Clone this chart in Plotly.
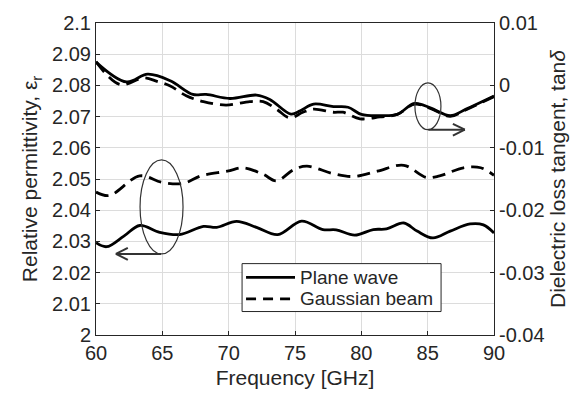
import plotly.graph_objects as go

# ---- data ----
# Lower curves: relative permittivity (left axis)
f_pw_eps = [60, 60.8, 62.1, 63.3, 64.8, 66.3, 68.1, 69.1, 70.6, 72.1, 73.7, 75.5, 77.1, 78.1, 79.5, 80.9, 81.9, 83.2, 84.2, 85.4, 86.7, 88.2, 89.2, 90]
pw_eps = [2.0296, 2.0283, 2.0317, 2.0351, 2.0329, 2.0322, 2.0348, 2.0345, 2.0364, 2.0345, 2.0322, 2.0365, 2.0338, 2.0337, 2.0320, 2.0338, 2.0340, 2.0359, 2.0333, 2.0311, 2.0333, 2.0356, 2.0353, 2.0327]

f_gb_eps = [60, 61.0, 63.3, 65.0, 66.6, 67.9, 69.9, 71.1, 72.6, 73.6, 74.9, 75.9, 77.9, 79.4, 81.2, 83.2, 84.9, 85.9, 87.7, 89.0, 90]
gb_eps = [2.0458, 2.0447, 2.0510, 2.0489, 2.0486, 2.0510, 2.0525, 2.0536, 2.0515, 2.0494, 2.0530, 2.0541, 2.0517, 2.0508, 2.0525, 2.0544, 2.0505, 2.0510, 2.0536, 2.0536, 2.0512]

# Upper curves: dielectric loss tangent (right axis)
f_pw_tan = [60, 62.3, 63.9, 65.6, 67.3, 68.3, 70.1, 72.1, 73.1, 74.7, 75.4, 76.4, 77.9, 79.0, 80.0, 81.4, 82.7, 84.0, 85.2, 86.7, 87.9, 90]
pw_tan = [0.00375, 0.00055, 0.0018, 0.00075, -0.00145, -0.00145, -0.0021, -0.00155, -0.00225, -0.0046, -0.00405, -0.0030, -0.0034, -0.0035, -0.00465, -0.00485, -0.00465, -0.0029, -0.0036, -0.00485, -0.0038, -0.0017]

f_gb_tan = [60, 61.8, 63.6, 64.6, 65.6, 66.8, 68.1, 69.8, 71.6, 72.6, 73.6, 74.6, 75.6, 76.4, 77.9, 78.6, 79.9, 81.4, 82.7, 84.0, 85.2, 86.7, 87.9, 90]
gb_tan = [0.0038, 0.00015, 0.0012, 0.00065, -0.0001, -0.00165, -0.0026, -0.00315, -0.0026, -0.0026, -0.0038, -0.0052, -0.0043, -0.0038, -0.0043, -0.0043, -0.00535, -0.00505, -0.00465, -0.0030, -0.0037, -0.00495, -0.0039, -0.0018]

series_names = ["Plane wave", "Gaussian beam"]

x_ticks = [60, 65, 70, 75, 80, 85, 90]
yl_ticks = [2.0, 2.01, 2.02, 2.03, 2.04, 2.05, 2.06, 2.07, 2.08, 2.09, 2.1]
yl_text = ["2", "2.01", "2.02", "2.03", "2.04", "2.05", "2.06", "2.07", "2.08", "2.09", "2.1"]
yr_ticks = [-0.04, -0.03, -0.02, -0.01, 0, 0.01]
yr_text = ["-0.04", "-0.03", "-0.02", "-0.01", "0", "0.01"]

# annotation geometry (left-axis units): ellipse boxes and arrows (tail -> head)
ellipse_left = (63.32, 66.56, 2.026, 2.0561)
ellipse_right = (84.04, 86.0, 2.0658, 2.0808)
arrow_left = ((64.9, 2.026), (61.5, 2.026))
arrow_right = ((85.05, 2.0658), (87.8, 2.0658))

FONT = "Liberation Sans, Arial, sans-serif"
TXT = "#262626"
ACOL = "#333333"
LW = 2.8
DASH = "13px,7px"

fig = go.Figure()
fig.add_trace(go.Scatter(x=f_pw_eps, y=pw_eps, mode="lines", name=series_names[0], showlegend=False,
                         line=dict(color="black", width=LW, shape="spline", smoothing=1.0)))
fig.add_trace(go.Scatter(x=f_gb_eps, y=gb_eps, mode="lines", name=series_names[1], showlegend=False,
                         line=dict(color="black", width=LW, dash=DASH, shape="spline", smoothing=1.0)))
fig.add_trace(go.Scatter(x=f_gb_tan, y=gb_tan, mode="lines", yaxis="y2", showlegend=False,
                         line=dict(color="black", width=LW, dash=DASH, shape="spline", smoothing=1.0)))
fig.add_trace(go.Scatter(x=f_pw_tan, y=pw_tan, mode="lines", yaxis="y2", showlegend=False,
                         line=dict(color="black", width=LW, shape="spline", smoothing=1.0)))

for (ex0, ex1, ey0, ey1) in [ellipse_left, ellipse_right]:
    fig.add_shape(type="circle", xref="x", yref="y", x0=ex0, x1=ex1, y0=ey0, y1=ey1,
                  line=dict(color=ACOL, width=1.2))

# arrows as shaft + open head (head size ~12 px long, ~6 px half-width)
HEAD_DX = 0.9      # GHz
HEAD_DY = 0.0019   # permittivity units
for (tail, head) in [arrow_left, arrow_right]:
    fig.add_shape(type="line", xref="x", yref="y", x0=tail[0], y0=tail[1], x1=head[0], y1=head[1],
                  line=dict(color=ACOL, width=2))
    sgn = 1 if tail[0] > head[0] else -1
    for s in (1, -1):
        fig.add_shape(type="line", xref="x", yref="y", x0=head[0], y0=head[1],
                      x1=head[0] + sgn * HEAD_DX, y1=head[1] + s * HEAD_DY,
                      line=dict(color=ACOL, width=2))

# legend box (drawn manually to match the compact MATLAB legend)
fig.add_shape(type="rect", xref="paper", yref="paper", x0=0.367, x1=0.867, y0=0.0752, y1=0.2288,
              line=dict(color=TXT, width=1), fillcolor="white", layer="above")
fig.add_shape(type="line", xref="paper", yref="paper", x0=0.377, x1=0.5, y0=0.185, y1=0.185,
              line=dict(color="black", width=LW), layer="above")
fig.add_shape(type="line", xref="paper", yref="paper", x0=0.377, x1=0.5, y0=0.116, y1=0.116,
              line=dict(color="black", width=LW, dash="10px,7px"), layer="above")
for name, yy in zip(series_names, [0.185, 0.116]):
    fig.add_annotation(x=0.508, y=yy, xref="paper", yref="paper", text=name, showarrow=False,
                       xanchor="left", yanchor="middle", font=dict(family=FONT, size=19, color=TXT))

axis_common = dict(showline=True, linecolor=TXT, linewidth=1, ticks="inside", ticklen=4,
                   tickcolor=TXT, tickfont=dict(family=FONT, size=20, color=TXT), zeroline=False)

fig.update_layout(
    width=578, height=398,
    margin=dict(l=96, r=84, t=17, b=62),
    paper_bgcolor="white", plot_bgcolor="white",
    font=dict(family=FONT, color=TXT),
    showlegend=False,
    xaxis=dict(range=[60, 90], tickvals=x_ticks, showgrid=True, gridcolor="#dcdcdc", gridwidth=1,
               mirror=True,
               title=dict(text="Frequency [GHz]", font=dict(family=FONT, size=21, color=TXT), standoff=7),
               **axis_common),
    yaxis=dict(range=[2.0, 2.1], tickvals=yl_ticks, ticktext=yl_text, showgrid=True,
               gridcolor="#dcdcdc", gridwidth=1,
               title=dict(text="Relative permittivity, ε<sub>r</sub>", font=dict(family=FONT, size=21, color=TXT), standoff=8),
               **axis_common),
    yaxis2=dict(range=[-0.04, 0.01], tickvals=yr_ticks, ticktext=yr_text, overlaying="y", side="right",
                showgrid=False,
                title=dict(text="Dielectric loss tangent, tan<i>δ</i>", font=dict(family=FONT, size=21, color=TXT), standoff=6),
                **axis_common),
)

fig.write_html("out.html")
